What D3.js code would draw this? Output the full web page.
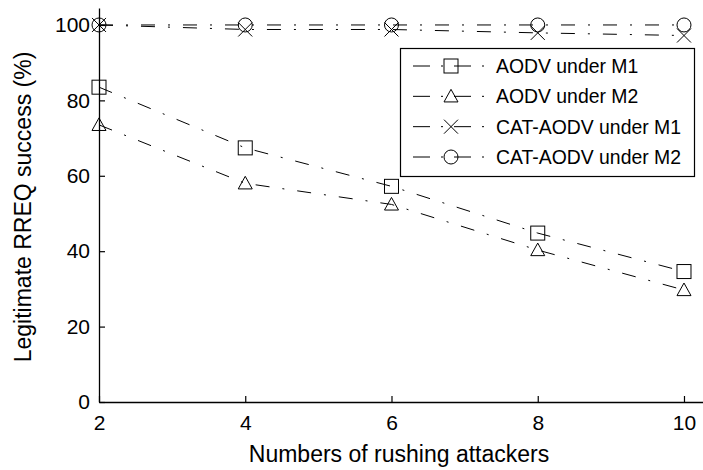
<!DOCTYPE html>
<html>
<head>
<meta charset="utf-8">
<script src="https://cdn.jsdelivr.net/npm/d3@7"></script>
<style>
  body { margin: 0; background: #fff; }
  text { font-family: "Liberation Sans", Arial, sans-serif; fill: #000; }
</style>
</head>
<body>
<svg width="703" height="470"></svg>
<script>
// data
var attackers = [2, 4, 6, 8, 10];
var aodvM1 = [83.5, 67.4, 57.2, 44.8, 34.6];
var aodvM2 = [73.5, 58, 52.4, 40.3, 29.7];
var catM1 = [100, 98.8, 98.8, 97.9, 97.2];
var catM2 = [100, 100, 100, 100, 100];
var seriesNames = ["AODV under M1", "AODV under M2", "CAT-AODV under M1", "CAT-AODV under M2"];
var markerTypes = ["square", "triangle", "cross", "circle"];
var yTicks = [0, 20, 40, 60, 80, 100];

var series = [aodvM1, aodvM2, catM1, catM2].map(function (vals, i) {
  return {name: seriesNames[i], marker: markerTypes[i],
    points: vals.map(function (v, j) { return {x: attackers[j], y: v}; })};
});

var svg = d3.select("svg");

// axes reach a bit past the last tick, like the figure
var x = d3.scaleLinear().domain([2, 10.26]).range([99, 703]);
var y = d3.scaleLinear().domain([0, 104.5]).range([402, 8]);

var dash = "14,13,2,13";

function drawMarker(g, type, cx, cy) {
  var s = 7;
  if (type == "square") {
    g.append("rect").attr("x", cx - s).attr("y", cy - s).attr("width", 2 * s).attr("height", 2 * s);
  } else if (type == "triangle") {
    g.append("path").attr("d", "M" + cx + "," + (cy - s) + "L" + (cx + s) + "," + (cy + s * 0.8) + "L" + (cx - s) + "," + (cy + s * 0.8) + "Z");
  } else if (type == "cross") {
    g.append("path").attr("d", "M" + (cx - s) + "," + (cy - s) + "L" + (cx + s) + "," + (cy + s) + "M" + (cx + s) + "," + (cy - s) + "L" + (cx - s) + "," + (cy + s));
  } else {
    g.append("circle").attr("cx", cx).attr("cy", cy).attr("r", s);
  }
}

// axes
var xAxis = svg.append("g")
  .attr("transform", "translate(0," + y(0) + ")")
  .call(d3.axisBottom(x).tickValues(attackers).tickSizeInner(-6).tickSizeOuter(0).tickPadding(13));
var yAxis = svg.append("g")
  .attr("transform", "translate(" + x(2) + ",0)")
  .call(d3.axisLeft(y).tickValues(yTicks).tickSizeInner(-6).tickSizeOuter(0).tickPadding(9));

xAxis.selectAll("text").style("font-size", "21px");
yAxis.selectAll("text").style("font-size", "21px");
svg.selectAll(".domain").attr("stroke", "#000").attr("stroke-width", 1.3);
svg.selectAll(".tick line").attr("stroke", "#000").attr("stroke-width", 1.2);

// lines + markers
var line = d3.line().x(function (d) { return x(d.x); }).y(function (d) { return y(d.y); });

series.forEach(function (s) {
  svg.append("path")
    .attr("d", line(s.points))
    .attr("fill", "none")
    .attr("stroke", "#000")
    .attr("stroke-width", 1)
    .attr("stroke-dasharray", dash);
  var mg = svg.append("g").attr("fill", "none").attr("stroke", "#000").attr("stroke-width", 1);
  s.points.forEach(function (p) {
    drawMarker(mg, s.marker, x(p.x), y(p.y));
  });
});

// legend
var leg = svg.append("g");
leg.append("rect")
  .attr("x", 400.5).attr("y", 48.5).attr("width", 294).attr("height", 128)
  .attr("fill", "#fff").attr("stroke", "#000").attr("stroke-width", 1.2);

var rowY = d3.scalePoint().domain(seriesNames).range([66, 157]);
series.forEach(function (s) {
  var cy = rowY(s.name);
  leg.append("line")
    .attr("x1", 413).attr("x2", 486).attr("y1", cy).attr("y2", cy)
    .attr("stroke", "#000").attr("stroke-width", 1)
    .attr("stroke-dasharray", "17,11,2,11");
  var mg = leg.append("g").attr("fill", "none").attr("stroke", "#000").attr("stroke-width", 1);
  drawMarker(mg, s.marker, 451, cy);
  leg.append("text")
    .attr("x", 496).attr("y", cy + 7)
    .style("font-size", "19.4px")
    .text(s.name);
});

// axis titles
svg.append("text")
  .attr("x", 399).attr("y", 462)
  .attr("text-anchor", "middle")
  .style("font-size", "23px")
  .text("Numbers of rushing attackers");

svg.append("text")
  .attr("transform", "translate(31,207) rotate(-90)")
  .attr("text-anchor", "middle")
  .style("font-size", "23px")
  .text("Legitimate RREQ success (%)");
</script>
</body>
</html>
